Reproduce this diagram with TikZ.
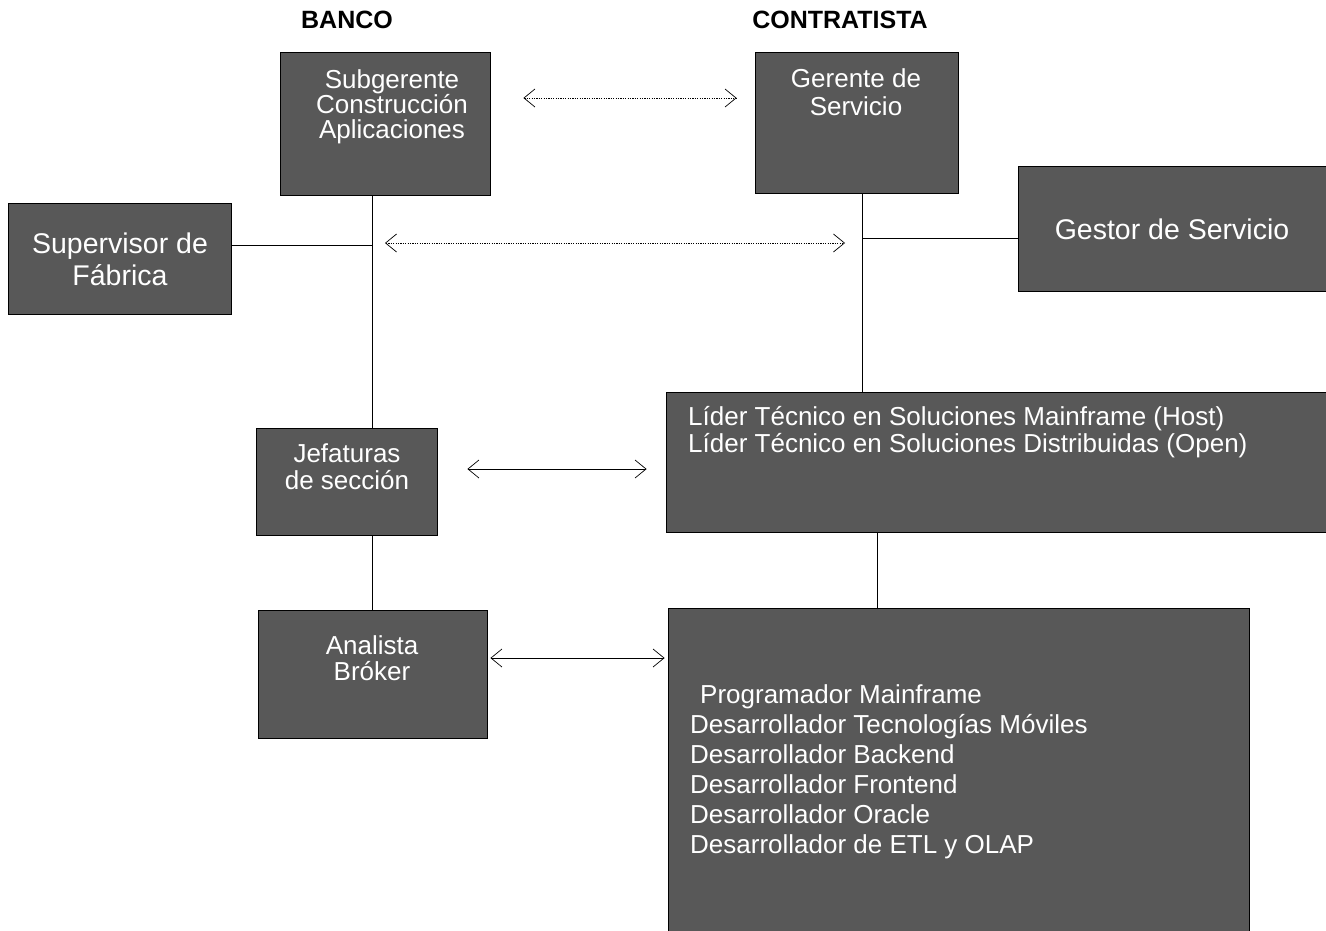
\documentclass[tikz,border=0pt]{standalone}
\usepackage{fontspec}
\setmainfont{Liberation Sans}
\usetikzlibrary{arrows.meta}
\definecolor{boxgray}{RGB}{88,88,88}
\begin{document}
\begin{tikzpicture}[x=1pt,y=-1pt,
  box/.style={draw=black, line width=0.8pt, fill=boxgray, inner sep=0pt},
  wtext/.style={text=white, inner sep=0pt, font=\fontsize{26}{25}\selectfont, align=center},
  title/.style={font=\bfseries\fontsize{25}{27}\selectfont, inner sep=0pt},
  conn/.style={line width=0.8pt},
  arr/.style={line width=0.7pt, {Straight Barb[length=11pt,width=18pt]}-{Straight Barb[length=11pt,width=18pt]}},
  dotarr/.style={arr, dash pattern=on 1.2pt off 1.2pt}
]
\useasboundingbox (0,0) rectangle (1326,930);

% titles
\node[title] (tbanco) at (347,20) {BANCO};
\node[title] (tcontr) at (840,20) {CONTRATISTA};

% boxes
\node[box, minimum width=210pt, minimum height=143pt] (sub) at (385,123.5) {};
\node[box, minimum width=203pt, minimum height=141pt] (ger) at (856.5,122.5) {};
\node[box, minimum width=223pt, minimum height=111pt] (sup) at (119.5,258.5) {};
\node[box, minimum width=310pt, minimum height=125pt] (ges) at (1173,228.5) {};
\node[box, minimum width=662pt, minimum height=140pt] (lid) at (997,462) {};
\node[box, minimum width=181pt, minimum height=107pt] (jef) at (346.5,481.5) {};
\node[box, minimum width=229pt, minimum height=128pt] (ana) at (372.5,674) {};
\node[box, minimum width=581pt, minimum height=326pt] (prog) at (958.5,771) {};

% texts
\node[wtext] (subt) at (392,107) {Subgerente\\Construcción\\Aplicaciones};
\node[wtext, font=\fontsize{26}{28}\selectfont] (gert) at (856,92) {Gerente de\\Servicio};
\node[wtext, font=\fontsize{28.5}{32}\selectfont] (supt) at (120,259) {Supervisor de\\Fábrica};
\node[wtext, font=\fontsize{28.5}{32}\selectfont] (gest) at (1172,229) {Gestor de Servicio};
\node[wtext, align=left, anchor=west, font=\fontsize{26}{27}\selectfont] (lidt) at (688,432.5) {Líder Técnico en Soluciones Mainframe (Host)\\Líder Técnico en Soluciones Distribuidas (Open)};
\node[wtext, font=\fontsize{26}{27}\selectfont] (jeft) at (347,466.5) {Jefaturas\\de sección};
\node[wtext, font=\fontsize{26}{26}\selectfont] (anat) at (372,658) {Analista\\Bróker};
\node[wtext, align=left, anchor=west, font=\fontsize{26}{30}\selectfont] (progt) at (690,771.5) {\hspace*{10pt}Programador Mainframe\\Desarrollador Tecnologías Móviles\\Desarrollador Backend\\Desarrollador Frontend\\Desarrollador Oracle\\Desarrollador de ETL y OLAP};

% connector helper coordinates
\coordinate (lx) at (372,245);
\coordinate (rx) at (862,238);
\coordinate (px) at (877,570);
\coordinate (y1) at (0,98);
\coordinate (y2) at (0,243);
\coordinate (y3) at (0,469);
\coordinate (y4) at (0,658);

% organisational lines
\draw[conn] (lx |- sub.south) -- (lx |- jef.north);
\draw[conn] (ana.north -| lx) -- (jef.south -| lx);
\draw[conn] (sup.east |- lx) -- (lx);
\draw[conn] (rx |- ger.south) -- (rx |- lid.north);
\draw[conn] (rx) -- (ges.west |- rx);
\draw[conn] (px |- lid.south) -- (px |- prog.north);

% relation arrows
\draw[dotarr, shorten <=33pt, shorten >=18pt] (sub.east |- y1) -- (ger.west |- y1);
\draw[dotarr, shorten <=13pt, shorten >=17pt] (lx |- y2) -- (rx |- y2);
\draw[arr, shorten <=30pt, shorten >=19pt] (jef.east |- y3) -- (lid.west |- y3);
\draw[arr, shorten <=3pt, shorten >=3pt] (ana.east |- y4) -- (prog.west |- y4);
\end{tikzpicture}
\end{document}
